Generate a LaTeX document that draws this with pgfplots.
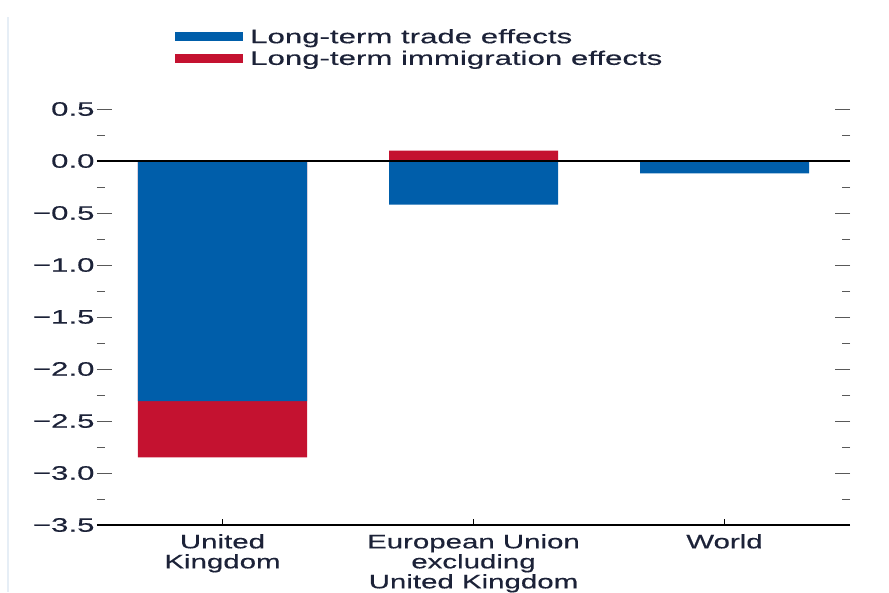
\documentclass[border=0pt]{standalone}
\usepackage{fontspec}
\setmainfont{Liberation Sans}[FakeStretch=1.6, FakeBold=0.4]
\newfontfamily\xlab{Liberation Sans}[FakeStretch=1.51, FakeBold=0.4]
\usepackage{pgfplots}
\pgfplotsset{compat=1.18}
\definecolor{tradeblue}{HTML}{005EAA}
\definecolor{immred}{HTML}{C41230}
\definecolor{txt}{HTML}{1C2238}
\newcommand\fs{\fontsize{19.5}{20}\selectfont}
\begin{document}
\begin{tikzpicture}
\path[use as bounding box] (0,0) rectangle (889pt,592pt);
\draw[color={rgb,255:red,230;green,238;blue,246}, line width=1.5pt] (8pt,0) -- (8pt,575pt);
\begin{axis}[
  at={(97pt,67pt)}, anchor=south west,
  scale only axis, width=753pt, height=416pt,
  xmin=-0.5, xmax=2.5, ymin=-3.5, ymax=0.5,
  axis line style={draw=none},
  ybar, bar width=169pt, bar shift=0pt,
  xtick={0,1,2},
  xticklabels={United\\Kingdom, European Union\\excluding\\United Kingdom, World},
  xtick style={draw=none},
  x tick label style={align=center, font=\xlab\fs, text=txt, inner sep=2pt, yshift=-7pt},
  ytick={-3.5,-3,-2.5,-2,-1.5,-1,-0.5,0,0.5},
  yticklabels={−3.5,−3.0,−2.5,−2.0,−1.5,−1.0,−0.5,0.0,0.5},
  y tick label style={font=\fs, text=txt, xshift=1pt},
  minor y tick num=1,
  tick align=inside, ytick pos=both, yticklabel pos=left,
  major tick length=15pt, minor tick length=8pt,
  y tick style={black!65, line width=0.9pt},
  legend style={at={(axis description cs:0.1036,1.195)}, anchor=north west,
    draw=none, fill=none, font=\fs, text=txt, inner sep=0pt, row sep=4pt,
    nodes={inner sep=1pt}},
  legend cell align=left, reverse legend,
  legend image code/.code={\fill[#1, draw=none] (0pt,-4.5pt) rectangle (68pt,4.5pt);},
]
\addplot[fill=immred, draw=none] coordinates {(0,-2.85) (1,0.10)};
\addlegendentry{\hspace{6pt}Long-term immigration effects}
\addplot[fill=tradeblue, draw=none] coordinates {(0,-2.31) (1,-0.42) (2,-0.12)};
\addlegendentry{\hspace{6pt}Long-term trade effects}
\draw[black, line width=1.1pt] (axis cs:-0.5,0) -- (axis cs:2.5,0);
\draw[black, line width=1.1pt] (rel axis cs:0,0) -- (rel axis cs:1,0);
\draw[black, line width=1pt] (axis cs:0,-3.5) -- ([yshift=6pt]axis cs:0,-3.5);
\draw[black, line width=1pt] (axis cs:1,-3.5) -- ([yshift=6pt]axis cs:1,-3.5);
\draw[black, line width=1pt] (axis cs:2,-3.5) -- ([yshift=6pt]axis cs:2,-3.5);
\end{axis}
\end{tikzpicture}
\end{document}
